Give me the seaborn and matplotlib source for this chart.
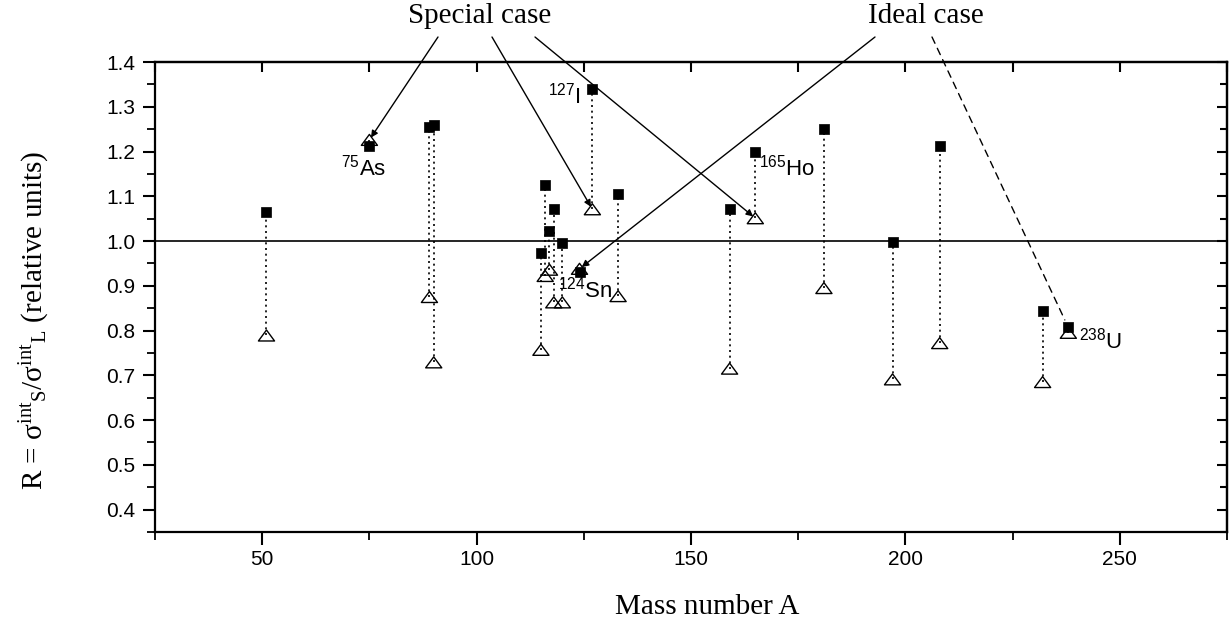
import numpy as np
import pandas as pd
import matplotlib
matplotlib.use("Agg")
import matplotlib.pyplot as plt
import seaborn as sns
from matplotlib.ticker import MultipleLocator
from matplotlib.path import Path

# ---- data ----
mass_number = [51, 75, 89, 90, 115, 116, 117, 118, 120, 124, 127, 133,
               159, 165, 181, 197, 208, 232, 238]
r_square = [1.066, 1.213, 1.254, 1.259, 0.973, 1.125, 1.022, 1.071, 0.995,
            0.930, 1.339, 1.105, 1.071, 1.200, 1.250, 0.998, 1.213, 0.843, 0.807]
r_triangle = [0.789, 1.226, 0.875, 0.729, 0.757, 0.922, 0.936, 0.863, 0.863,
              0.938, 1.071, 0.877, 0.715, 1.051, 0.895, 0.691, 0.772, 0.685, 0.795]

x_ticks = [50, 100, 150, 200, 250]
y_ticks = [0.4, 0.5, 0.6, 0.7, 0.8, 0.9, 1.0, 1.1, 1.2, 1.3, 1.4]

# isotope labels: (mass number, superscript, element)
iso_labels = [(75, "75", "As"), (127, "127", "I"), (124, "124", "Sn"),
              (165, "165", "Ho"), (238, "238", "U")]
special_cases = [75, 127, 165]
ideal_cases = [124]
dashed_case = [238]

df = pd.DataFrame({"A": mass_number, "Rs": r_square, "Rt": r_triangle})

sns.set_style("ticks")
plt.rcParams.update({
    "font.family": ["Liberation Sans", "DejaVu Sans"],
    "mathtext.fontset": "custom",
    "mathtext.rm": "Liberation Serif",
    "mathtext.it": "Liberation Serif:italic",
    "mathtext.sf": "Liberation Sans",
    "axes.linewidth": 1.6,
    "text.color": "black",
    "axes.labelcolor": "black",
    "xtick.color": "black",
    "ytick.color": "black",
    "axes.edgecolor": "black",
})

W, H = 1229, 630
fig = plt.figure(figsize=(W / 100, H / 100), dpi=100)
ax = fig.add_axes([155 / W, 1 - 532 / H, (1227 - 155) / W, (532 - 62) / H])

ax.vlines(df["A"], df["Rt"], df["Rs"], colors="black",
          linestyles=(0, (1.2, 2.2)), linewidth=1.2, zorder=1)
ax.axhline(1.0, color="black", linewidth=1.2, zorder=1)

sns.scatterplot(data=df, x="A", y="Rs", marker="s", s=62, color="black",
                edgecolor="black", linewidth=0.5, ax=ax, zorder=3)
flat_triangle = Path([(0, 0.68), (-1, -0.68), (1, -0.68), (0, 0.68)],
                     [Path.MOVETO, Path.LINETO, Path.LINETO, Path.CLOSEPOLY])
sns.scatterplot(data=df, x="A", y="Rt", marker=flat_triangle, s=135,
                color="black", linewidth=1.0, ax=ax, zorder=4)
tri = ax.collections[-1]
tri.set_facecolor("none")
tri.set_edgecolor("black")

ax.set_xlim(25, 275)
ax.set_ylim(0.35, 1.4)
ax.set_xticks(x_ticks)
ax.set_yticks(y_ticks)
ax.xaxis.set_minor_locator(MultipleLocator(25))
ax.yaxis.set_minor_locator(MultipleLocator(0.05))
ax.set_yticklabels([f"{v:.1f}" for v in y_ticks])
ax.tick_params(which="major", direction="out", length=9, width=1.5,
               labelsize=15, pad=5)
ax.tick_params(which="minor", direction="out", length=5.5, width=1.3)
ax.tick_params(axis="x", which="major", pad=4)

top = ax.secondary_xaxis("top")
top.set_xticks(x_ticks)
top.xaxis.set_minor_locator(MultipleLocator(25))
top.tick_params(which="both", direction="in", length=7, width=1.5,
                labeltop=False)
right = ax.secondary_yaxis("right")
right.set_yticks(y_ticks)
right.yaxis.set_minor_locator(MultipleLocator(0.05))
right.tick_params(which="both", direction="in", length=7, width=1.5,
                  labelright=False)
right.tick_params(which="minor", length=5)

ax.set_xlabel("Mass number A", family="Liberation Serif", fontsize=21)
ax.xaxis.set_label_coords((707 - 155) / 1072, (532 - 594) / 470)
ax.set_ylabel(r"R = $\mathrm{\sigma}^{\mathrm{int}}{}_{\mathrm{S}}/"
              r"\mathrm{\sigma}^{\mathrm{int}}{}_{\mathrm{L}}$ (relative units)",
              family="Liberation Serif", fontsize=21)
ax.yaxis.set_label_coords((52 - 155) / 1072, (532 - 320) / 470)

# isotope labels
offsets = {75: (-6, -28, "center"), 127: (-12, -6, "right"),
           124: (6, -21, "center"), 165: (4, -16, "left"),
           238: (11, -13, "left")}
for a, sup, el in iso_labels:
    i = mass_number.index(a)
    yref = r_square[i] if a in (127, 165, 238) else r_triangle[i]
    dx, dy, ha = offsets[a]
    ax.annotate(r"$\mathsf{{}^{%s}%s}$" % (sup, el), xy=(a, yref),
                xytext=(dx, dy), textcoords="offset pixels", ha=ha,
                va="center", fontsize=16, zorder=5)

# case annotations
fig.text(480 / W, 1 - 16 / H, "Special case", family="Liberation Serif",
         fontsize=21, ha="center", va="center")
fig.text(926 / W, 1 - 16 / H, "Ideal case", family="Liberation Serif",
         fontsize=21, ha="center", va="center")

arrow_kw = dict(arrowstyle="-|>", color="black", lw=1.0, mutation_scale=10,
                shrinkA=0, shrinkB=2)
special_starts = [(438, H - 37), (492, H - 37), (535, H - 37)]
for a, st in zip(special_cases, special_starts):
    i = mass_number.index(a)
    ax.annotate("", xy=(a, r_triangle[i]), xycoords="data", xytext=st,
                textcoords="figure pixels", arrowprops=arrow_kw,
                annotation_clip=False)
for a in ideal_cases:
    i = mass_number.index(a)
    ax.annotate("", xy=(a, r_triangle[i]), xycoords="data",
                xytext=(875, H - 37), textcoords="figure pixels",
                arrowprops=arrow_kw, annotation_clip=False)
for a in dashed_case:
    i = mass_number.index(a)
    ax.annotate("", xy=(a, r_square[i]), xycoords="data",
                xytext=(932, H - 37), textcoords="figure pixels",
                arrowprops=dict(arrowstyle="-", color="black", lw=1.0,
                                linestyle=(0, (5, 4)), shrinkA=0, shrinkB=6),
                annotation_clip=False)

fig.savefig("out.png", dpi=100)
